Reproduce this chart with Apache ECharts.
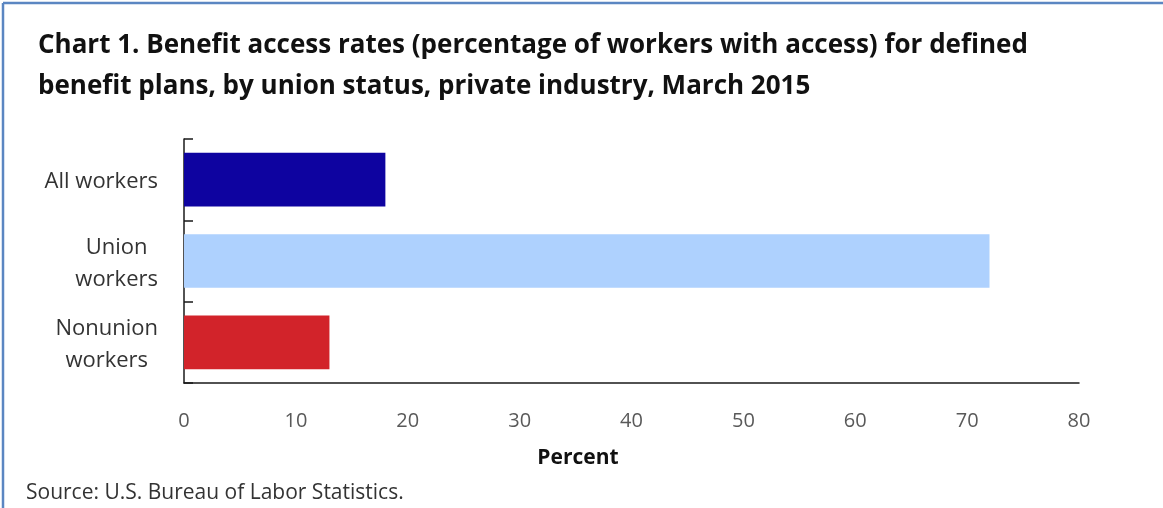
<!DOCTYPE html>
<html>
<head>
<meta charset="utf-8">
<title>Benefit access rates for defined benefit plans, by union status</title>
<script src="https://cdn.jsdelivr.net/npm/echarts@6/dist/echarts.min.js"></script>
<style>
  html, body { margin: 0; padding: 0; background: #ffffff; }
  #chart { width: 1163px; height: 508px; }
</style>
</head>
<body>
<div id="chart"></div>
<script>
// Worker groups, top to bottom
const categories = ['All workers', 'Union\nworkers', 'Nonunion\nworkers'];
// Access rate (percent of workers) for defined benefit plans, March 2015
const accessRates = [18, 72, 13];
// Bar fill per group
const barColors = ['#0e03a0', '#aed1fe', '#d2232a'];
// Percent axis ticks
const xTicks = [0, 10, 20, 30, 40, 50, 60, 70, 80];

const titleLines = [
  'Chart 1. Benefit access rates (percentage of workers with access) for defined',
  'benefit plans, by union status, private industry, March 2015'
];
const sourceNote = 'Source: U.S. Bureau of Labor Statistics.';
const xAxisTitle = 'Percent';

const FONT = '"Open Sans", Lato, sans-serif';
const TICK_SIZE = 20;
const CAT_SIZE = 22;

const chart = echarts.init(document.getElementById('chart'), null, { renderer: 'canvas' });

// Each category label is a right-aligned block whose lines are centred on each other.
const labelRich = {
  c: { align: 'center', fontFamily: FONT, fontSize: CAT_SIZE, color: '#333333', lineHeight: 32 }
};

chart.setOption({
  backgroundColor: '#ffffff',
  animation: false,
  title: {
    text: titleLines.join('\n'),
    left: 33,
    top: 20,
    textStyle: {
      fontFamily: FONT,
      fontWeight: 'bold',
      fontSize: 26,
      lineHeight: 41,
      color: '#111111'
    }
  },
  grid: {
    left: 184,
    right: 84,
    top: 139,
    bottom: 125,
    containLabel: false
  },
  xAxis: {
    type: 'value',
    min: xTicks[0],
    max: xTicks[xTicks.length - 1],
    interval: xTicks[1] - xTicks[0],
    axisLine: { show: true, lineStyle: { color: '#1a1a1a', width: 1.5 } },
    axisTick: { show: false },
    splitLine: { show: false },
    axisLabel: {
      margin: 28,
      fontFamily: FONT,
      fontSize: TICK_SIZE,
      color: '#595959',
      customValues: xTicks
    }
  },
  yAxis: {
    type: 'category',
    inverse: true,
    data: categories,
    axisLine: { show: true, lineStyle: { color: '#1a1a1a', width: 1.5 } },
    axisTick: {
      show: true,
      inside: true,
      length: 9,
      lineStyle: { color: '#1a1a1a', width: 1.5 }
    },
    splitLine: { show: false },
    axisLabel: {
      margin: 26,
      align: 'right',
      padding: [5, 0, 0, 0],
      formatter: function (value) {
        return value.split('\n').map(function (line) { return '{c|' + line + '}'; }).join('\n');
      },
      rich: labelRich
    }
  },
  series: [{
    type: 'bar',
    data: accessRates.map(function (v, i) {
      return { value: v, itemStyle: { color: barColors[i] } };
    }),
    barCategoryGap: '34%',
    label: { show: false }
  }],
  graphic: [
    // Frame edges along the top and left
    { type: 'line', shape: { x1: 3, y1: 3, x2: 1163, y2: 3 }, style: { stroke: '#5b86c2', lineWidth: 2.5 }, silent: true },
    { type: 'line', shape: { x1: 3, y1: 3, x2: 3, y2: 508 }, style: { stroke: '#5b86c2', lineWidth: 2.5 }, silent: true },
    // Axis title under the tick labels
    {
      type: 'text',
      x: 578,
      y: 458,
      style: {
        text: xAxisTitle,
        align: 'center',
        verticalAlign: 'middle',
        fontFamily: FONT,
        fontWeight: 'bold',
        fontSize: 21,
        fill: '#111111'
      }
    },
    {
      type: 'text',
      x: 26,
      y: 493,
      style: {
        text: sourceNote,
        verticalAlign: 'middle',
        fontFamily: FONT,
        fontSize: 21,
        fill: '#333333'
      }
    }
  ]
});
</script>
</body>
</html>
